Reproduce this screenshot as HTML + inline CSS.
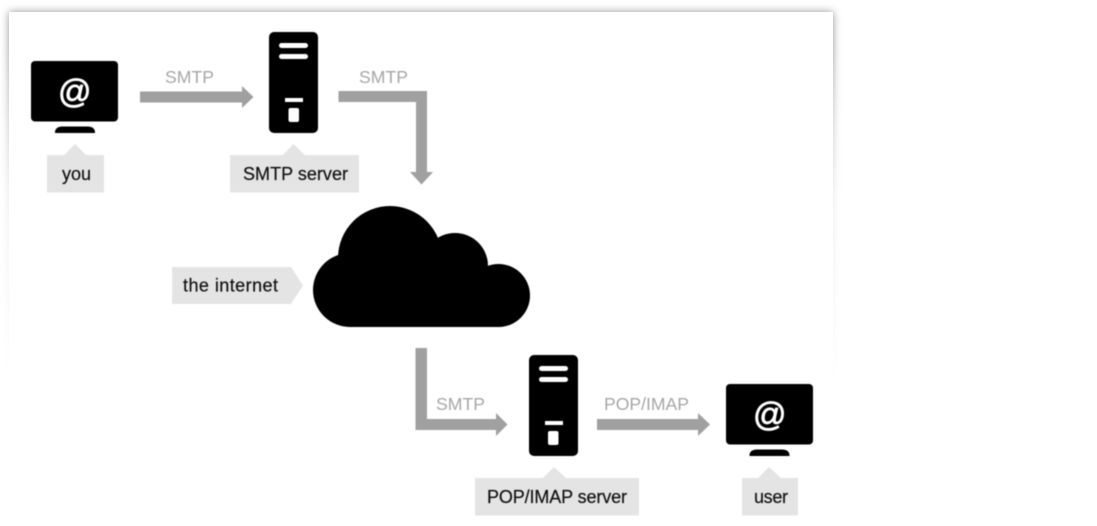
<!DOCTYPE html>
<html>
<head>
<meta charset="utf-8">
<style>
html,body{margin:0;padding:0;background:#fff;width:1097px;height:526px;overflow:hidden}
#wrap{position:relative;width:1097px;height:526px;overflow:hidden;background:#fff}
#shadow{position:absolute;left:0;top:0;width:1097px;height:526px;
  -webkit-mask-image:linear-gradient(to bottom,#000 0,#000 50px,rgba(0,0,0,.55) 130px,rgba(0,0,0,.22) 200px,rgba(0,0,0,.1) 300px,transparent 385px);
  mask-image:linear-gradient(to bottom,#000 0,#000 50px,rgba(0,0,0,.55) 130px,rgba(0,0,0,.22) 200px,rgba(0,0,0,.1) 300px,transparent 385px)}
#panel{position:absolute;left:9px;top:12px;width:824px;height:450px;background:#fff;box-shadow:0 0 8px rgba(0,0,0,.42)}
svg{position:absolute;left:0;top:0;filter:blur(.4px)}
text{font-family:"Liberation Sans",sans-serif;font-size:18px}
.g{fill:#a6a6a6;font-size:17.6px}
.k{fill:#111;stroke:#111;stroke-width:.2px}
.l{fill:#e4e4e4}
.a{fill:#a0a0a0}
.at{fill:#fff;font-size:33px;stroke:#fff;stroke-width:.7px}
</style>
</head>
<body>
<div id="wrap">
<div id="shadow"><div id="panel"></div></div>
<svg width="1097" height="526" viewBox="0 0 1097 526" xmlns="http://www.w3.org/2000/svg">
  <!-- Left monitor -->
  <rect x="31" y="61" width="87" height="60.500" rx="4" fill="#000"/>
  <path d="M55 133V131.500Q56 126.500 62 126.500H88Q94 126.500 95 131.500V133Z" fill="#000"/>
  <text class="at" x="58" y="102.500">@</text>

  <!-- SMTP server -->
  <rect x="269" y="32" width="49" height="101" rx="5" fill="#000"/>
  <rect x="279" y="43" width="29" height="5" rx="2.500" fill="#fff"/>
  <rect x="279" y="54" width="29" height="5" rx="2.500" fill="#fff"/>
  <rect x="285" y="98" width="18" height="4" fill="#fff"/>
  <rect x="288.500" y="108" width="10.500" height="14" rx="2" fill="#fff"/>

  <!-- POP/IMAP server -->
  <rect x="529" y="355" width="49" height="101" rx="5" fill="#000"/>
  <rect x="539" y="366" width="29" height="5" rx="2.500" fill="#fff"/>
  <rect x="539" y="377" width="29" height="5" rx="2.500" fill="#fff"/>
  <rect x="545" y="421" width="18" height="4" fill="#fff"/>
  <rect x="548" y="431" width="10.500" height="14" rx="2" fill="#fff"/>

  <!-- Right monitor -->
  <rect x="726" y="384" width="87" height="60.500" rx="4" fill="#000"/>
  <path d="M749.500 456V454.500Q750.500 449.500 756.500 449.500H782.500Q788.500 449.500 789.500 454.500V456Z" fill="#000"/>
  <text class="at" x="753" y="425.500">@</text>

  <!-- Cloud -->
  <g fill="#000">
    <circle cx="390" cy="258" r="52"/>
    <circle cx="455" cy="266" r="33"/>
    <circle cx="498.500" cy="295.500" r="31.500"/>
    <circle cx="350" cy="290" r="37"/>
    <rect x="350" y="266" width="148" height="61"/>
  </g>

  <!-- Arrows -->
  <path class="a" d="M140 91.500H242V86L253.500 97 242 108V102.500H140Z"/>
  <path class="a" d="M338.500 91H427V172H433L421.500 184.500 410 172H416V102H338.500Z"/>
  <path class="a" d="M415.500 348H427V419H496V413L507.500 424.500 496 436V430H415.500Z"/>
  <path class="a" d="M597 419H698V413L710 424.500 698 436V430H597Z"/>

  <!-- Connector labels -->
  <text class="g" x="165" y="83" textLength="49" lengthAdjust="spacing">SMTP</text>
  <text class="g" x="359" y="83" textLength="49" lengthAdjust="spacing">SMTP</text>
  <text class="g" x="436" y="410" textLength="49" lengthAdjust="spacing">SMTP</text>
  <text class="g" x="604" y="410" textLength="85" lengthAdjust="spacing">POP/IMAP</text>

  <!-- Callouts -->
  <path class="l" d="M47 155H64.500L75 144 86 155H104V192.500H47Z"/>
  <text class="k" x="62" y="180" textLength="29" lengthAdjust="spacing">you</text>

  <path class="l" d="M230 155H283L293.500 144 305 155H359V192.500H230Z"/>
  <text class="k" x="243" y="180" textLength="105" lengthAdjust="spacing">SMTP server</text>

  <path class="l" d="M172 267H291L303 285.500 291 304H172Z"/>
  <text class="k" x="183" y="291.500" textLength="95" lengthAdjust="spacing">the internet</text>

  <path class="l" d="M475 478H543L554 467 566 478H639V515.500H475Z"/>
  <text class="k" x="487" y="503" textLength="140" lengthAdjust="spacing">POP/IMAP server</text>

  <path class="l" d="M742 478H758L769 467 781 478H798V515.500H742Z"/>
  <text class="k" x="754" y="503" textLength="34" lengthAdjust="spacing">user</text>
</svg>
</div>
</body>
</html>
